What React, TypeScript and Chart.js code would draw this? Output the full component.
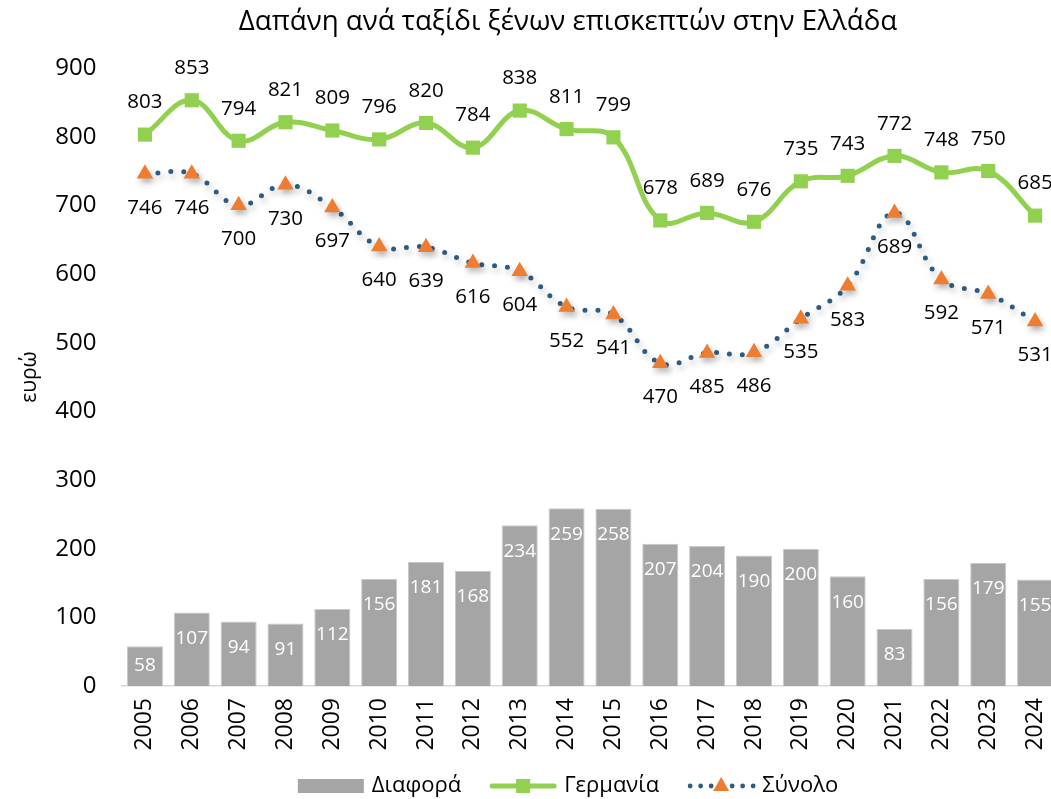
import React, { useEffect, useRef } from "react";
import { Chart, registerables } from "chart.js";

Chart.register(...registerables);

const years = ["2005","2006","2007","2008","2009","2010","2011","2012","2013","2014","2015","2016","2017","2018","2019","2020","2021","2022","2023","2024"];
const germany = [803, 853, 794, 821, 809, 796, 820, 784, 838, 811, 799, 678, 689, 676, 735, 743, 772, 748, 750, 685];
const total = [746, 746, 700, 730, 697, 640, 639, 616, 604, 552, 541, 470, 485, 486, 535, 583, 689, 592, 571, 531];
const difference = [58, 107, 94, 91, 112, 156, 181, 168, 234, 259, 258, 207, 204, 190, 200, 160, 83, 156, 179, 155];
const yTicks = [0, 100, 200, 300, 400, 500, 600, 700, 800, 900];

const TITLE = "Δαπάνη ανά ταξίδι ξένων επισκεπτών στην Ελλάδα";
const Y_TITLE = "ευρώ";
const NAMES = { diff: "Διαφορά", ger: "Γερμανία", tot: "Σύνολο" };

const FONT = "'Open Sans', 'Noto Sans', sans-serif";
const GRAY = "#A5A5A5";
const GREEN = "#92D050";
const BLUE = "#2E5B82";
const ORANGE = "#ED7D31";
const W = 1136;
const H = 799;

const customPlugin = {
  id: "customDraw",
  beforeDatasetDraw(chart: any, args: any) {
    if (args.index === 2) {
      const ctx = chart.ctx;
      ctx.save();
      ctx.shadowColor = "rgba(0,0,0,0.28)";
      ctx.shadowBlur = 6;
      ctx.shadowOffsetX = 2;
      ctx.shadowOffsetY = 4;
    }
  },
  afterDatasetDraw(chart: any, args: any) {
    if (args.index === 2) chart.ctx.restore();
  },
  afterDatasetsDraw(chart: any) {
    const ctx = chart.ctx;
    ctx.save();
    ctx.textAlign = "center";
    ctx.textBaseline = "middle";
    // bar labels
    ctx.font = `19px ${FONT}`;
    ctx.fillStyle = "#FFFFFF";
    chart.getDatasetMeta(0).data.forEach((el: any, i: number) => {
      const h = el.base - el.y;
      const off = Math.min(26, h / 2);
      ctx.fillText(String(difference[i]), el.x, el.y + off);
    });
    // line labels
    ctx.font = `20.5px ${FONT}`;
    ctx.fillStyle = "#000000";
    chart.getDatasetMeta(1).data.forEach((el: any, i: number) => {
      ctx.fillText(String(germany[i]), el.x, el.y - 32);
    });
    chart.getDatasetMeta(2).data.forEach((el: any, i: number) => {
      ctx.fillText(String(total[i]), el.x, el.y + 34);
    });
    ctx.restore();
  },
  afterDraw(chart: any) {
    const ctx = chart.ctx;
    const cx = chart.width / 2;
    ctx.save();
    // title
    ctx.font = `27.7px ${FONT}`;
    ctx.fillStyle = "#000000";
    ctx.textAlign = "center";
    ctx.textBaseline = "middle";
    ctx.fillText(TITLE, cx, 22);

    // legend
    ctx.font = `22px ${FONT}`;
    ctx.textAlign = "left";
    const symW = 66;
    const gapAfterSym = 8;
    const gapItems = 29;
    const labels = [NAMES.diff, NAMES.ger, NAMES.tot];
    const widths = labels.map((t) => ctx.measureText(t).width);
    const totalW = widths.reduce((a, b) => a + b, 0) + 3 * (symW + gapAfterSym) + 2 * gapItems;
    let x = cx - totalW / 2;
    const ly = 786;
    // bar symbol
    ctx.fillStyle = GRAY;
    ctx.fillRect(x, ly - 7, symW, 14);
    x += symW + gapAfterSym;
    ctx.fillStyle = "#000";
    ctx.fillText(labels[0], x, ly);
    x += widths[0] + gapItems;
    // green line symbol
    ctx.strokeStyle = GREEN;
    ctx.lineWidth = 5;
    ctx.lineCap = "round";
    ctx.beginPath();
    ctx.moveTo(x + 2, ly);
    ctx.lineTo(x + symW - 2, ly);
    ctx.stroke();
    ctx.fillStyle = GREEN;
    ctx.fillRect(x + symW / 2 - 7, ly - 7, 14, 14);
    x += symW + gapAfterSym;
    ctx.fillStyle = "#000";
    ctx.fillText(labels[1], x, ly);
    x += widths[1] + gapItems;
    // dotted symbol
    ctx.fillStyle = BLUE;
    for (let d = 0; d < 7; d++) {
      ctx.beginPath();
      ctx.arc(x + 2 + d * 10.5, ly, 2.4, 0, Math.PI * 2);
      ctx.fill();
    }
    const tx = x + symW / 2;
    ctx.fillStyle = ORANGE;
    ctx.beginPath();
    ctx.moveTo(tx, ly - 9);
    ctx.lineTo(tx + 8, ly + 5);
    ctx.lineTo(tx - 8, ly + 5);
    ctx.closePath();
    ctx.fill();
    x += symW + gapAfterSym;
    ctx.fillStyle = "#000";
    ctx.fillText(labels[2], x, ly);
    ctx.restore();
  },
};

export default function App() {
  const ref = useRef<HTMLCanvasElement>(null);
  useEffect(() => {
    const canvas = ref.current!;
    const chart = new Chart(canvas, {
      type: "bar",
      data: {
        labels: years,
        datasets: [
          {
            type: "bar",
            label: NAMES.diff,
            data: difference,
            backgroundColor: GRAY,
            borderColor: "#C9C9C9",
            borderWidth: 1,
            barPercentage: 0.77,
            categoryPercentage: 1,
            order: 3,
          },
          {
            type: "line",
            label: NAMES.ger,
            data: germany,
            borderColor: GREEN,
            backgroundColor: GREEN,
            borderWidth: 5,
            tension: 0.4,
            pointStyle: "rect",
            pointRadius: 10,
            pointBorderWidth: 0,
            pointBackgroundColor: GREEN,
            clip: false,
            order: 2,
          } as any,
          {
            type: "line",
            label: NAMES.tot,
            data: total,
            borderColor: BLUE,
            backgroundColor: ORANGE,
            borderWidth: 5,
            borderDash: [0, 13],
            borderCapStyle: "round",
            tension: 0.4,
            pointStyle: "triangle",
            pointRadius: 9.5,
            pointBorderWidth: 0,
            pointBackgroundColor: ORANGE,
            clip: false,
            order: 1,
          } as any,
        ],
      },
      options: {
        responsive: false,
        animation: false,
        layout: { padding: { top: 68, left: 0, right: W - 1058.5, bottom: 0 } },
        plugins: {
          legend: { display: false },
          title: { display: false },
          tooltip: { enabled: false },
        },
        scales: {
          x: {
            grid: { display: false, drawTicks: false },
            border: { display: true, color: "#D9D9D9", width: 1.5 },
            ticks: {
              autoSkip: false,
              minRotation: 90,
              maxRotation: 90,
              padding: 12,
              color: "#000",
              font: { family: FONT, size: 23 },
            },
            afterFit: (s: any) => {
              s.height = H - 686;
            },
          },
          y: {
            min: 0,
            max: 900,
            afterBuildTicks: (s: any) => {
              s.ticks = yTicks.map((v) => ({ value: v }));
            },
            grid: { display: false, drawTicks: false },
            border: { display: false },
            ticks: {
              padding: 25,
              color: "#000",
              font: { family: FONT, size: 24 },
            },
            title: {
              display: true,
              text: Y_TITLE,
              color: "#000",
              font: { family: FONT, size: 21 },
              padding: { top: 17, bottom: 0 },
            },
            afterFit: (s: any) => {
              s.width = 121.5;
            },
          },
        },
      },
      plugins: [customPlugin],
    });
    return () => chart.destroy();
  }, []);
  return (
    <div style={{ position: "fixed", left: 0, top: 0, width: W, height: H, background: "#fff" }}>
      <canvas ref={ref} width={W} height={H} style={{ width: W, height: H, display: "block" }} />
    </div>
  );
}
